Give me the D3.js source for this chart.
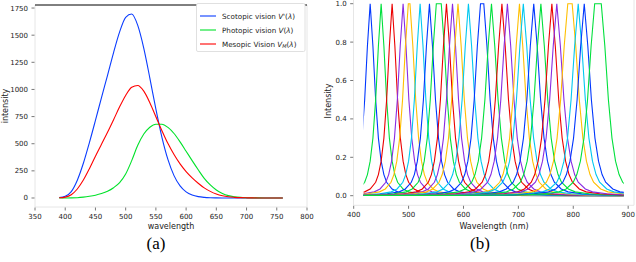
<!DOCTYPE html>
<html>
<head>
<meta charset="utf-8">
<script src="https://cdn.jsdelivr.net/npm/d3@7"></script>
<style>
  body { margin: 0; background: #fff; }
  svg { display: block; font-family: "DejaVu Sans", sans-serif; }
</style>
</head>
<body>
<script>
// ---- panel (a): luminous efficiency curves ----
const wlA = [390, 400, 410, 420, 430, 440, 450, 460, 470, 480, 490, 500, 510, 520, 530, 540, 550, 560, 570, 580,
  590, 600, 610, 620, 630, 640, 650, 660, 670, 680, 690, 700, 710, 720, 730, 740, 750, 760];
const scotopic = [3.8, 15.8, 59, 164, 320, 510, 715, 925, 1130, 1340, 1530, 1665, 1695, 1590, 1379, 1105, 818, 559, 353, 206,
  111, 56, 27, 12.5, 5.7, 2.5, 1.2, 0.5, 0.2, 0.1, 0, 0, 0, 0, 0, 0, 0, 0];
const photopic = [0.1, 0.3, 0.8, 2.7, 7.9, 15.7, 26, 41, 62, 95, 142, 221, 344, 485, 589, 652, 680, 680, 650, 594,
  517, 431, 344, 260, 181, 120, 73, 42, 22, 11.6, 5.6, 2.8, 1.4, 0.7, 0.3, 0.2, 0.1, 0.05];
const mesopic = [1.9, 8, 30, 83, 165, 270, 385, 495, 605, 721, 840, 945, 1020, 1037, 984, 878, 749, 620, 501, 400,
  314, 243, 185, 136, 93, 61, 37, 21, 11, 6, 3, 1.5, 0.7, 0.4, 0.2, 0.1, 0.05, 0.03];
const seriesA = [
  { name: "Scotopic vision ", sym: "V'", color: "#0a3cff", values: scotopic },
  { name: "Photopic vision ", sym: "V", color: "#00e22a", values: photopic },
  { name: "Mesopic Vision ", sym: "V", sub: "M", color: "#ff0000", values: mesopic }
];
const xTicksA = [350, 400, 450, 500, 550, 600, 650, 700, 750, 800];
const yTicksA = [0, 250, 500, 750, 1000, 1250, 1500, 1750];

// ---- panel (b): filter bank spectra ----
const colorsB = ["#0037ff", "#00e03c", "#ec0000", "#8a2be2", "#ffbf00", "#00c8f0"];
const peakNm = [430, 450, 470, 490, 501, 521, 538, 555, 569, 580, 590, 609, 634, 651, 670, 680,
  702, 709, 728, 741, 761, 770, 794, 809, 820, 845];
const peakHw = [10, 10, 10, 10.5, 10.5, 10.5, 11, 11, 11, 11, 11.5, 11.5, 11.5, 12, 12, 12, 12, 12.5,
  12.5, 12.5, 12.5, 13, 13, 13, 13, 13];
const peakFlat = [0, 0, 0, 0, 3, 0, 0, 9, 0, 0, 0, 0, 6, 0, 0, 0, 0, 0, 0, 0, 0, 0, 8, 0, 0, 12];
// shared line shape: offset in half-widths -> relative intensity
const profD = [0, 0.5, 1, 1.5, 2, 2.5, 3, 4, 5, 7, 10, 20, 60];
const profV = [1, 0.78, 0.5, 0.3, 0.18, 0.11, 0.07, 0.035, 0.02, 0.01, 0.004, 0.001, 0];
const wlRangeB = [418, 892];
const xTicksB = [400, 500, 600, 700, 800, 900];
const yTicksB = [0, 0.2, 0.4, 0.6, 0.8, 1.0];

const W = 636, H = 262;
const svg = d3.select("body").append("svg").attr("width", W).attr("height", H);

const spine = "#e6e6e6", tickCol = "#555", txt = "#222";

function drawAxes(g, x, y, xTicks, yTicks, yFmt) {
  const [x0, x1] = x.range(), [y0, y1] = y.range();
  // y ticks
  g.selectAll(".yt").data(yTicks).enter().append("line")
    .attr("x1", x0 - 3.5).attr("x2", x0 - 0.5)
    .attr("y1", d => y(d)).attr("y2", d => y(d))
    .attr("stroke", tickCol).attr("stroke-width", 0.8);
  g.selectAll(".yl").data(yTicks).enter().append("text")
    .attr("x", x0 - 7).attr("y", d => y(d) + 2.5)
    .attr("text-anchor", "end").attr("font-size", 7).attr("fill", txt)
    .text(yFmt);
  // x ticks
  g.selectAll(".xt").data(xTicks).enter().append("line")
    .attr("x1", d => x(d)).attr("x2", d => x(d))
    .attr("y1", y0 + 0.5).attr("y2", y0 + 3.5)
    .attr("stroke", tickCol).attr("stroke-width", 0.8);
  g.selectAll(".xl").data(xTicks).enter().append("text")
    .attr("x", d => x(d)).attr("y", y0 + 12)
    .attr("text-anchor", "middle").attr("font-size", 7).attr("fill", txt)
    .text(d => d);
}

// ================= panel (a) =================
const xA = d3.scaleLinear().domain([350, 800]).range([35, 307]);
const yA = d3.scaleLinear().domain([-83, 1778]).range([207, 5]);
const gA = svg.append("g");

gA.append("line").attr("x1", 35).attr("x2", 35).attr("y1", 5).attr("y2", 207).attr("stroke", spine);
gA.append("line").attr("x1", 307).attr("x2", 307).attr("y1", 5).attr("y2", 207).attr("stroke", spine);
gA.append("line").attr("x1", 35).attr("x2", 307).attr("y1", 207).attr("y2", 207).attr("stroke", spine);
drawAxes(gA, xA, yA, xTicksA, yTicksA, d => d);

const lineA = d3.line().x(d => xA(d[0])).y(d => yA(d[1])).curve(d3.curveMonotoneX);
seriesA.forEach(s => {
  gA.append("path")
    .attr("d", lineA(wlA.map((w, i) => [w, s.values[i]])))
    .attr("fill", "none").attr("stroke", s.color).attr("stroke-width", 1.1);
});
gA.append("line").attr("x1", 35).attr("x2", 307).attr("y1", 5).attr("y2", 5)
  .attr("stroke", "#000").attr("stroke-width", 1);

// legend
const lg = gA.append("g");
lg.append("rect").attr("x", 196.5).attr("y", 3.5).attr("width", 108.5).attr("height", 48)
  .attr("fill", "#fff").attr("stroke", "#d8d8d8").attr("stroke-width", 0.8).attr("rx", 1.5);
seriesA.forEach((s, i) => {
  const yy = 16 + i * 14;
  lg.append("line").attr("x1", 200).attr("x2", 216).attr("y1", yy).attr("y2", yy)
    .attr("stroke", s.color).attr("stroke-width", 1.1);
  const t = lg.append("text").attr("x", 222).attr("y", yy + 2.6)
    .attr("font-size", 7.2).attr("fill", txt);
  t.append("tspan").text(s.name);
  t.append("tspan").attr("font-style", "italic").text(s.sym);
  if (s.sub) t.append("tspan").attr("font-size", 5).attr("font-style", "italic").attr("dy", 1.5).text(s.sub);
  t.append("tspan").attr("dy", s.sub ? -1.5 : 0).text("(");
  t.append("tspan").attr("font-style", "italic").text("λ");
  t.append("tspan").text(")");
});

gA.append("text").attr("x", 171).attr("y", 229).attr("text-anchor", "middle")
  .attr("font-size", 8).attr("fill", txt).text("wavelength");
gA.append("text").attr("transform", "translate(7.5,106) rotate(-90)").attr("text-anchor", "middle")
  .attr("font-size", 8).attr("fill", txt).text("intensity");
gA.append("text").attr("x", 156).attr("y", 249).attr("text-anchor", "middle")
  .attr("font-family", "Liberation Serif, serif").attr("font-size", 17).attr("fill", "#000").text("(a)");

// ================= panel (b) =================
const xB = d3.scaleLinear().domain([400, 911]).range([353.7, 634.2]);
const yB = d3.scaleLinear().domain([-0.05, 1.05]).range([205.3, -5.9]);
const gB = svg.append("g");

gB.append("line").attr("x1", 353.5).attr("x2", 353.5).attr("y1", 0).attr("y2", 205.3).attr("stroke", spine);
gB.append("line").attr("x1", 634).attr("x2", 634).attr("y1", 0).attr("y2", 205.3).attr("stroke", spine);
gB.append("line").attr("x1", 353.5).attr("x2", 634).attr("y1", 205.3).attr("y2", 205.3).attr("stroke", spine);
drawAxes(gB, xB, yB, xTicksB, yTicksB, d => d.toFixed(1));

gB.append("clipPath").attr("id", "clipB").append("rect")
  .attr("x", xB(wlRangeB[0])).attr("y", 0)
  .attr("width", xB(wlRangeB[1]) - xB(wlRangeB[0])).attr("height", 206);

const lineB = d3.line().x(d => xB(d[0])).y(d => yB(d[1])).curve(d3.curveLinear);
peakNm.forEach((c, i) => {
  const hw = peakHw[i], half = peakFlat[i] / 2;
  const left = profD.slice().reverse().map((d, k) => [c - half - d * hw, profV[profV.length - 1 - k]]);
  const right = profD.map((d, k) => [c + half + d * hw, profV[k]]);
  const pts = half > 0 ? left.concat(right) : left.concat(right.slice(1));
  gB.append("path")
    .attr("clip-path", "url(#clipB)")
    .attr("d", lineB(pts))
    .attr("fill", "none").attr("stroke", colorsB[i % colorsB.length]).attr("stroke-width", 1.1);
});

gB.append("text").attr("x", 494).attr("y", 229).attr("text-anchor", "middle")
  .attr("font-size", 8).attr("fill", txt).text("Wavelength (nm)");
gB.append("text").attr("transform", "translate(331,101) rotate(-90)").attr("text-anchor", "middle")
  .attr("font-size", 8).attr("fill", txt).text("Intensity");
gB.append("text").attr("x", 480).attr("y", 249).attr("text-anchor", "middle")
  .attr("font-family", "Liberation Serif, serif").attr("font-size", 17).attr("fill", "#000").text("(b)");
</script>
</body>
</html>
